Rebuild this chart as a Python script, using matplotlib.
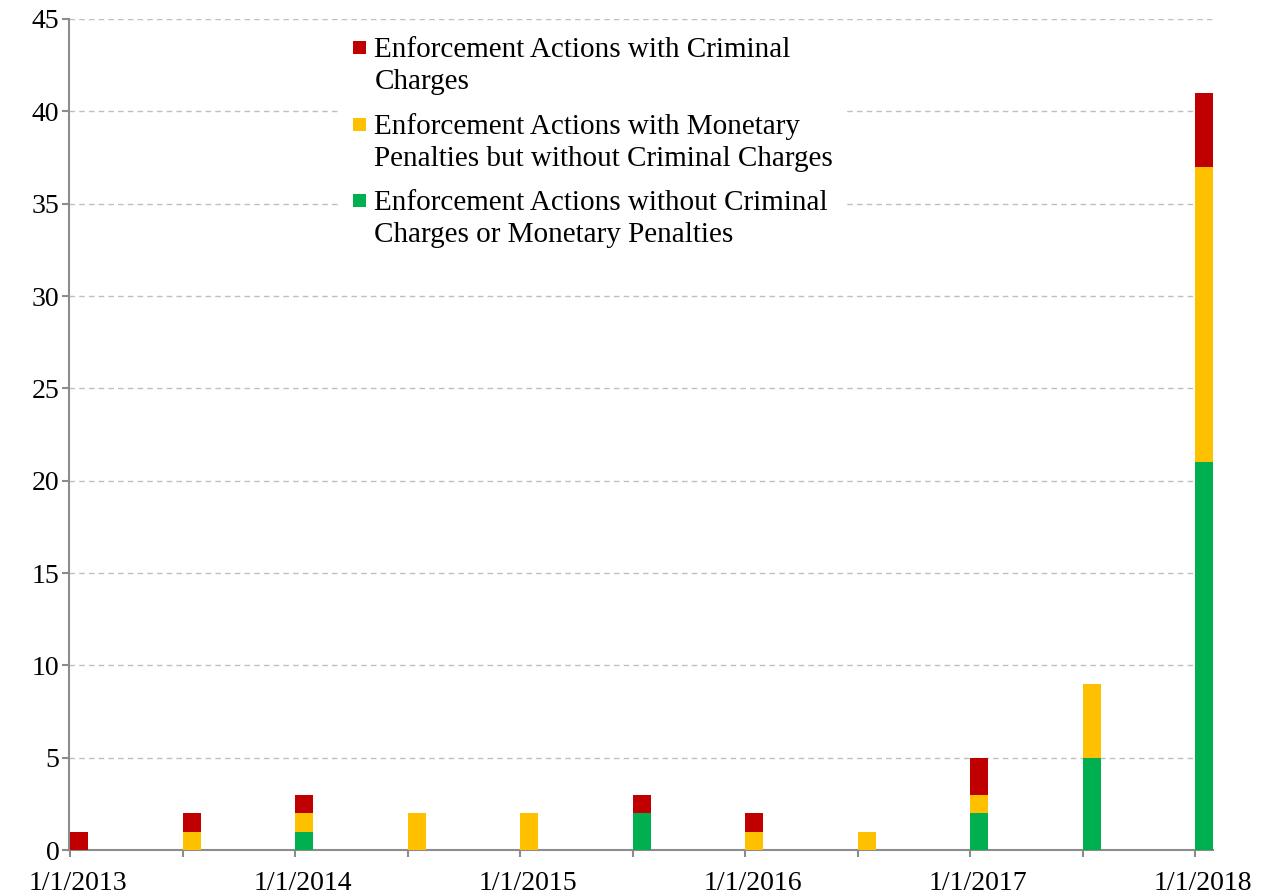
import matplotlib
matplotlib.use("Agg")
import matplotlib.pyplot as plt
import matplotlib.patches as mpatches
import matplotlib.transforms as mtransforms
from matplotlib.legend_handler import HandlerPatch
import numpy as np

dates = ["1/1/2013", "7/1/2013", "1/1/2014", "7/1/2014", "1/1/2015", "7/1/2015",
         "1/1/2016", "7/1/2016", "1/1/2017", "7/1/2017", "1/1/2018"]
green = [0, 0, 1, 0, 0, 2, 0, 0, 2, 5, 21]
yellow = [0, 1, 1, 2, 2, 0, 1, 1, 1, 4, 16]
red = [1, 1, 1, 0, 0, 1, 1, 0, 2, 0, 4]
labels = ["Enforcement Actions with Criminal\nCharges",
          "Enforcement Actions with Monetary\nPenalties but without Criminal Charges",
          "Enforcement Actions without Criminal\nCharges or Monetary Penalties"]
colors = ["#C00000", "#FFC000", "#00B050"]

plt.rcParams['font.family'] = ['Liberation Serif', 'DejaVu Serif']

fig = plt.figure(figsize=(12.67, 8.96), dpi=100)
ax = fig.add_axes([69/1267, 46/896, (1213-69)/1267, (850-19)/896])

x = np.arange(len(dates))
g = np.array(green); yv = np.array(yellow); r = np.array(red)
w = 0.16
ax.bar(x, g, width=w, align='edge', color=colors[2], zorder=3)
ax.bar(x, yv, width=w, bottom=g, align='edge', color=colors[1], zorder=3)
ax.bar(x, r, width=w, bottom=g + yv, align='edge', color=colors[0], zorder=3)

ax.set_xlim(-0.01, 10.16)
ax.set_ylim(0, 45)
ax.set_yticks(range(0, 46, 5))
ax.set_xticks(x)
ax.set_xticklabels([d if i % 2 == 0 else "" for i, d in enumerate(dates)])
ax.yaxis.grid(True, linestyle=(0, (4, 3)), color="#BFBFBF", linewidth=1, zorder=0)
for s in ["top", "right"]:
    ax.spines[s].set_visible(False)
for s in ["left", "bottom"]:
    ax.spines[s].set_color("#8C8C8C")
    ax.spines[s].set_linewidth(1.5)
ax.tick_params(axis='both', colors="#8C8C8C", length=5, width=1.5, labelcolor="black", labelsize=20)
ax.tick_params(axis='x', pad=10)
ax.tick_params(axis='y', pad=2)

shift = mtransforms.ScaledTranslation(8/100, 0, fig.dpi_scale_trans)
for lbl in ax.get_xticklabels():
    lbl.set_transform(lbl.get_transform() + shift)


def square_top(legend, orig_handle, xdescent, ydescent, width, height, fontsize):
    s = 0.45 * fontsize
    return mpatches.Rectangle((-xdescent + width - s, -ydescent + height - s + 0.2 * fontsize), s, s)


proxies = [mpatches.Rectangle((0, 0), 1, 1, facecolor=c, edgecolor='none') for c in colors]
leg = fig.legend(proxies, labels, loc='upper left', bbox_to_anchor=(338/1267, 1 - 24/896),
                 fontsize=21, frameon=True, fancybox=False, handlelength=0.5, handleheight=1.7,
                 handletextpad=0.3, labelspacing=0.62, borderpad=0.45, borderaxespad=0,
                 handler_map={mpatches.Rectangle: HandlerPatch(patch_func=square_top)})
for t in leg.get_texts():
    t.set_linespacing(1.3)
leg.get_frame().set_edgecolor("none")
leg.get_frame().set_facecolor("white")
leg.get_frame().set_alpha(1)

fig.savefig("out.png", dpi=100)
